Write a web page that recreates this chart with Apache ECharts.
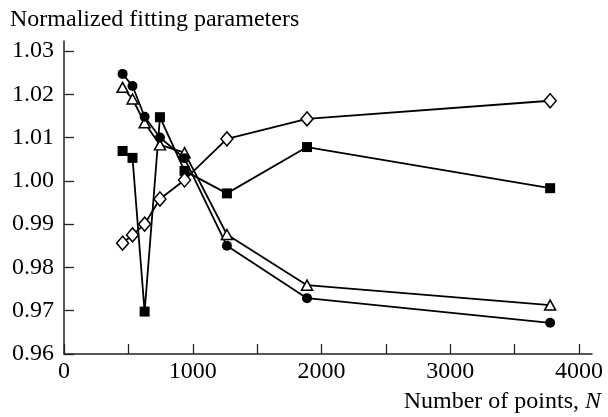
<!DOCTYPE html>
<html>
<head>
<meta charset="utf-8">
<script src="https://cdn.jsdelivr.net/npm/echarts@6/dist/echarts.min.js"></script>
<style>
  html, body { margin: 0; padding: 0; background: #fff; }
  #main { width: 608px; height: 417px; }
</style>
</head>
<body>
<div id="main"></div>
<script>
// number of points N (x positions)
var nPoints = [455, 532, 626, 745, 936, 1265, 1887, 3775];
// normalized parameters, one array per marker
var circles   = [1.0247, 1.0219, 1.0148, 1.0100, 1.0052, 0.9850, 0.9729, 0.9672];
var triangles = [1.0216, 1.0189, 1.0134, 1.0083, 1.0065, 0.9876, 0.9759, 0.9713];
var squares   = [1.0069, 1.0053, 0.9698, 1.0147, 1.0023, 0.9971, 1.0078, 0.9983];
var diamonds  = [0.9856, 0.9875, 0.9900, 0.9958, 1.0002, 1.0097, 1.0143, 1.0185];

var xTicks = [0, 500, 1000, 1500, 2000, 2500, 3000, 3500, 4000];
var xLabels = [0, 1000, 2000, 3000, 4000];
var yTicks = [0.96, 0.97, 0.98, 0.99, 1.00, 1.01, 1.02, 1.03];

var FONT = '"Liberation Serif", "Times New Roman", serif';

var myChart = echarts.init(document.getElementById('main'));

function pairs(ys) {
    var out = [];
    for (var i = 0; i < nPoints.length; i++) {
        out.push([nPoints[i], ys[i]]);
    }
    return out;
}

function makeSerie(ys, symbol, size, filled) {
    return {
        type: 'line',
        data: pairs(ys),
        symbol: symbol,
        symbolSize: size,
        showAllSymbol: true,
        lineStyle: { color: '#000', width: 1.8 },
        itemStyle: {
            color: filled ? '#000' : '#fff',
            borderColor: '#000',
            borderWidth: filled ? 0 : 1.5
        },
        emphasis: { disabled: true },
        animation: false
    };
}

var option = {
    backgroundColor: '#fff',
    grid: { left: 64, right: 16, top: 41, bottom: 63, outerBoundsMode: 'none' },
    xAxis: {
        type: 'value',
        min: 0,
        max: 4100,
        interval: 500,
        splitLine: { show: false },
        axisLine: { lineStyle: { color: '#222', width: 1.5 } },
        axisTick: { inside: true, length: 10, customValues: xTicks, lineStyle: { color: '#222', width: 1.3 } },
        axisLabel: {
            customValues: xLabels,
            color: '#000', fontFamily: FONT, fontSize: 24, margin: 6,
            formatter: function (v) { return String(v); }
        }
    },
    yAxis: {
        type: 'value',
        min: 0.96,
        max: 1.0323,
        interval: 0.01,
        splitLine: { show: false },
        axisLine: { show: true, lineStyle: { color: '#222', width: 1.5 } },
        axisTick: { show: true, inside: true, length: 10, customValues: yTicks, lineStyle: { color: '#222', width: 1.3 } },
        axisLabel: {
            customValues: yTicks,
            color: '#000', fontFamily: FONT, fontSize: 24, margin: 10,
            formatter: function (v) { return v.toFixed(2); }
        }
    },
    graphic: [
        {
            type: 'text', left: 10, top: 8,
            style: { text: 'Normalized fitting parameters', fill: '#000', font: '24px ' + FONT }
        },
        {
            type: 'text', right: 7, top: 390,
            style: {
                text: '{a|Number of points, }{b|N}',
                fill: '#000',
                rich: {
                    a: { fontFamily: FONT, fontSize: 24, fill: '#000' },
                    b: { fontFamily: FONT, fontSize: 24, fontStyle: 'italic', fill: '#000' }
                }
            }
        }
    ],
    series: [
        makeSerie(squares, 'rect', 10, true),
        makeSerie(diamonds, 'diamond', [12, 14], false),
        makeSerie(triangles, 'triangle', [11, 10], false),
        makeSerie(circles, 'circle', 10, true)
    ]
};

myChart.setOption(option);
</script>
</body>
</html>
